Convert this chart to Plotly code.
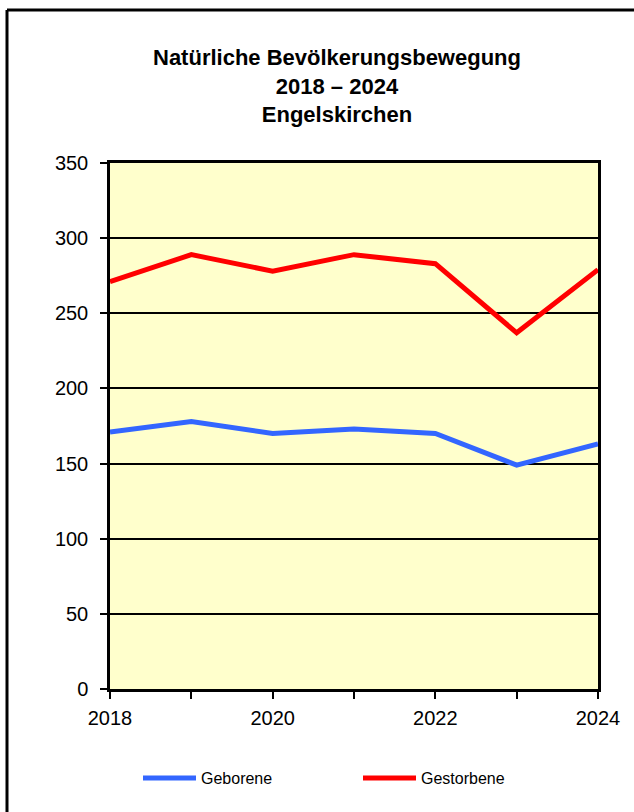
import plotly.graph_objects as go

years = [2018, 2019, 2020, 2021, 2022, 2023, 2024]
geborene = [171, 178, 170, 173, 170, 149, 163]
gestorbene = [271, 289, 278, 289, 283, 237, 279]
y_ticks = [0, 50, 100, 150, 200, 250, 300, 350]

W, H = 634, 812
L, R, T, B = 110, 598, 163, 689  # plot area in px

def px(x):
    return (x - L) / (R - L)

def py(y):
    return (B - y) / (B - T)

FONT = "Liberation Sans, Arial, sans-serif"

fig = go.Figure()
fig.add_trace(go.Scatter(x=years, y=geborene, mode="lines", name="Geborene",
                         line=dict(color="#3366FF", width=5)))
fig.add_trace(go.Scatter(x=years, y=gestorbene, mode="lines", name="Gestorbene",
                         line=dict(color="#FF0000", width=5)))

fig.update_layout(
    width=W, height=H,
    margin=dict(l=L, r=W - R, t=T, b=H - B, pad=0),
    paper_bgcolor="white",
    plot_bgcolor="#FFFFCC",
    font=dict(family=FONT, color="black", size=17),
    showlegend=True,
    legend=dict(orientation="h", x=px(138), xanchor="left", y=py(778), yanchor="middle",
                font=dict(size=16, family=FONT), entrywidth=152, bgcolor="rgba(0,0,0,0)",
                itemwidth=53),
    xaxis=dict(range=[2018, 2024], dtick=2, tick0=2018, showgrid=False,
               ticks="outside", ticklen=7, tickwidth=2, tickcolor="black",
               showline=True, linecolor="black", linewidth=2.5, mirror=True,
               zeroline=False, tickfont=dict(size=20), ticklabelstandoff=2,
               minor=dict(dtick=1, ticks="outside", ticklen=7, tickwidth=2,
                          tickcolor="black", showgrid=False)),
    yaxis=dict(range=[0, 350], tickvals=y_ticks, showgrid=True, gridcolor="black",
               gridwidth=2, ticks="outside", ticklen=7, tickwidth=2, tickcolor="black",
               showline=True, linecolor="black", linewidth=2.5, mirror=True,
               zeroline=False, tickfont=dict(size=20), ticklabelstandoff=8),
)

fig.add_annotation(text="<b>Natürliche Bevölkerungsbewegung<br>2018 – 2024<br>Engelskirchen</b>",
                   xref="paper", yref="paper", x=px(336.5), y=py(86.5), xanchor="center",
                   yanchor="middle", showarrow=False, font=dict(size=22, family=FONT))

# outer frame (top and left edges visible)
fig.add_shape(type="line", xref="paper", yref="paper", x0=px(7), x1=px(640), y0=py(10), y1=py(10),
              line=dict(color="black", width=3))
fig.add_shape(type="line", xref="paper", yref="paper", x0=px(7), x1=px(7), y0=py(10), y1=py(820),
              line=dict(color="black", width=3))

fig.write_html("out.html", config={"displayModeBar": False},
               post_script="document.body.style.margin='0';")
